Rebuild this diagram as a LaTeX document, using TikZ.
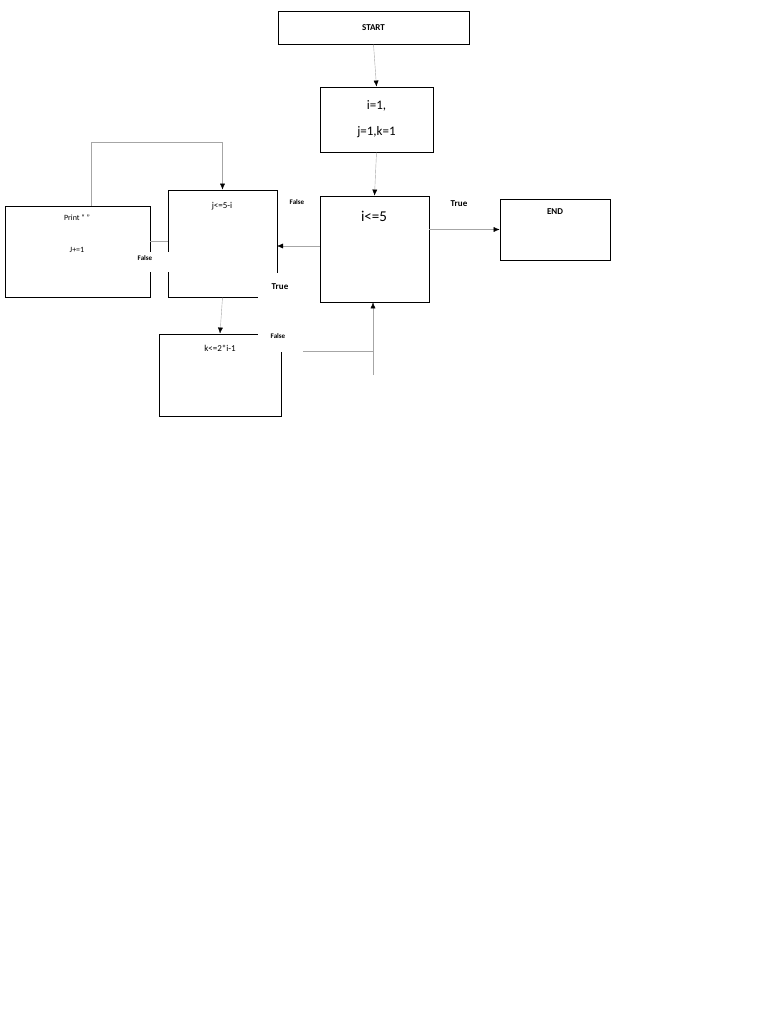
\documentclass[tikz,border=0pt]{standalone}
\usepackage{fontspec}
\setmainfont{Carlito}
\usetikzlibrary{arrows.meta}
\tikzset{
  box/.style={draw,thick,inner sep=0pt},
  flow/.style={draw=black!35,-{Latex[black,length=6pt,width=5pt]}},
  line/.style={draw=black!35},
  tag/.style={fill=white,font=\fontsize{7}{8}\selectfont\bfseries,inner sep=2pt}
}
\begin{document}
\begin{tikzpicture}[x=1pt,y=-1pt]
    \useasboundingbox (0,0) rectangle (768,1024);
    % boxes
    \node[box,minimum width=191pt,minimum height=33pt,font=\fontsize{9}{10}\selectfont\bfseries] (start) at (373.5,27.5) {START};
    \node[box,minimum width=113pt,minimum height=65pt,align=center,font=\fontsize{13}{26}\selectfont] (init) at (376.5,119.5) {i=1,\\j=1,k=1};
    \node[box,minimum width=109pt,minimum height=106pt] (iloop) at (374.5,249) {};
    \node[font=\fontsize{15}{16}\selectfont] at (374,216) {i<=5};
    \node[box,minimum width=110pt,minimum height=61pt] (end) at (555,229.5) {};
    \node[font=\fontsize{9}{10}\selectfont\bfseries] at (555,212) {END};
    \node[box,minimum width=109pt,minimum height=107pt] (jloop) at (222.5,243.5) {};
    \node[font=\fontsize{9}{10}\selectfont] at (222,206) {j<=5-i};
    \node[box,minimum width=145pt,minimum height=91pt] (print) at (77.5,251.5) {};
    \node[font=\fontsize{8}{9}\selectfont] at (77,218) {Print “ ”};
    \node[font=\fontsize{8}{9}\selectfont] at (77,250) {J+=1};
    \node[box,minimum width=122pt,minimum height=82pt] (kloop) at (220,375) {};
    \node[font=\fontsize{9}{10}\selectfont] at (220,348) {k<=2*i-1};
    % breaks in the outlines
    \fill[white] (278,186) rectangle (318,218);
    \fill[white] (258,273) rectangle (282,300);
    \fill[white] (146,252) rectangle (172,272);
    \fill[white] (258,330) rectangle (284,352);
    \coordinate (jr) at (277,246);
    \draw[thick] (277,223) -- (277,272);
    % connectors
    \draw[flow] (start.south) -- (init.north);
    \draw[flow] (init.south) -- (iloop.north);
    \draw[flow] (iloop.east |- end.west) -- (end.west);
    \draw[flow] (iloop.west |- jr) -- (jr);
    \draw[flow] (jloop.south) -- (kloop.north);
    \draw[flow] (print.north -| 91,0) -- (91,142) -| (jloop.north);
    \draw[line] (print.east |- 0,241) -- (jloop.west |- 0,241);
    \coordinate (kf) at (303,351);
    \draw[thick] (kf) -- ++(15,0);
    \draw[line] (kf) -- (373,351);
    \draw[flow] (373,375) -- (iloop.south -| 373,0);
    % labels
    \node[tag] at (459,204) {\fontsize{9}{10}\selectfont True};
    \node[tag] at (297,202) {False};
    \node[tag] at (145,258) {False};
    \node[tag] at (280,287) {\fontsize{9}{10}\selectfont True};
    \node[tag] at (278,336) {False};
\end{tikzpicture}
\end{document}
